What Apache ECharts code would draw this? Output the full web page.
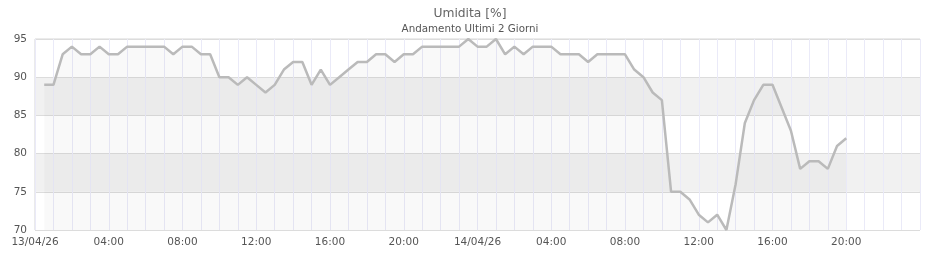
<!DOCTYPE html>
<html>
<head>
<meta charset="utf-8">
<script src="https://cdn.jsdelivr.net/npm/echarts@6/dist/echarts.min.js"></script>
<style>
html,body{margin:0;padding:0;background:#fff;}
#chart{width:940px;height:260px;}
</style>
</head>
<body>
<div id="chart"></div>
<script>
// Time of first sample (hours after 13/04/26 00:00) and sampling step (hours)
const startHour = 0.5;
const stepHours = 0.5;
// Humidity values [%], one every 30 minutes, 13/04 00:30 -> 14/04 20:00
const humidity = [
  89, 89, 93, 94, 93, 93, 94, 93, 93, 94,
  94, 94, 94, 94, 93, 94, 94, 93, 93, 90,
  90, 89, 90, 89, 88, 89, 91, 92, 92, 89,
  91, 89, 90, 91, 92, 92, 93, 93, 92, 93,
  93, 94, 94, 94, 94, 94, 95, 94, 94, 95,
  93, 94, 93, 94, 94, 94, 93, 93, 93, 92,
  93, 93, 93, 93, 91, 90, 88, 87, 75, 75,
  74, 72, 71, 72, 70, 76, 84, 87, 89, 89,
  86, 83, 78, 79, 79, 78, 81, 82
];
// x tick labels, every 4 hours from 13/04/26 00:00 to 15/04/26 00:00
const xTickLabels = ['13/04/26','04:00','08:00','12:00','16:00','20:00',
                     '14/04/26','04:00','08:00','12:00','16:00','20:00',''];
const yTicks = [70, 75, 80, 85, 90, 95];
const titleText = 'Umidita [%]';
const subtitleText = 'Andamento Ultimi 2 Giorni';

const seriesData = humidity.map((v, i) => [startHour + i * stepHours, v]);

const chart = echarts.init(document.getElementById('chart'), null, {renderer: 'canvas'});
const font = 'DejaVu Sans';
chart.setOption({
  animation: false,
  backgroundColor: '#ffffff',
  title: {
    text: titleText,
    subtext: subtitleText,
    left: 'center',
    top: 3,
    itemGap: 4,
    textStyle: {fontFamily: font, fontSize: 12.3, fontWeight: 'normal', color: '#666'},
    subtextStyle: {fontFamily: font, fontSize: 10.3, color: '#555'}
  },
  grid: {
    left: 35, right: 20, top: 39, bottom: 30,
    show: true, borderColor: '#d6d6d6', borderWidth: 1, backgroundColor: 'transparent'
  },
  xAxis: {
    type: 'value',
    min: 0, max: 48, interval: 4,
    axisLine: {show: false},
    axisTick: {show: false},
    axisLabel: {
      fontFamily: font, fontSize: 10.5, color: '#555', margin: 7,
      showMaxLabel: true,
      formatter: v => xTickLabels[Math.round(v / 4)] || ''
    },
    splitLine: {show: true, lineStyle: {color: '#eaeaf8', width: 1}},
    minorTick: {show: false, splitNumber: 4},
    minorSplitLine: {show: true, lineStyle: {color: '#eaeaf8', width: 1}}
  },
  yAxis: {
    type: 'value',
    min: yTicks[0], max: yTicks[yTicks.length - 1], interval: 5,
    axisLine: {show: false},
    axisTick: {show: false},
    axisLabel: {fontFamily: font, fontSize: 10.5, color: '#555', margin: 8},
    splitLine: {show: true, lineStyle: {color: '#dcdcdc', width: 1}},
    splitArea: {show: true, areaStyle: {color: ['#ffffff', '#f1f1f1']}}
  },
  series: [{
    type: 'line',
    data: seriesData,
    symbol: 'none',
    lineStyle: {color: '#bababa', width: 2.5},
    areaStyle: {color: 'rgba(0,0,0,0.03)'},
    z: 3
  }]
});
</script>
</body>
</html>
